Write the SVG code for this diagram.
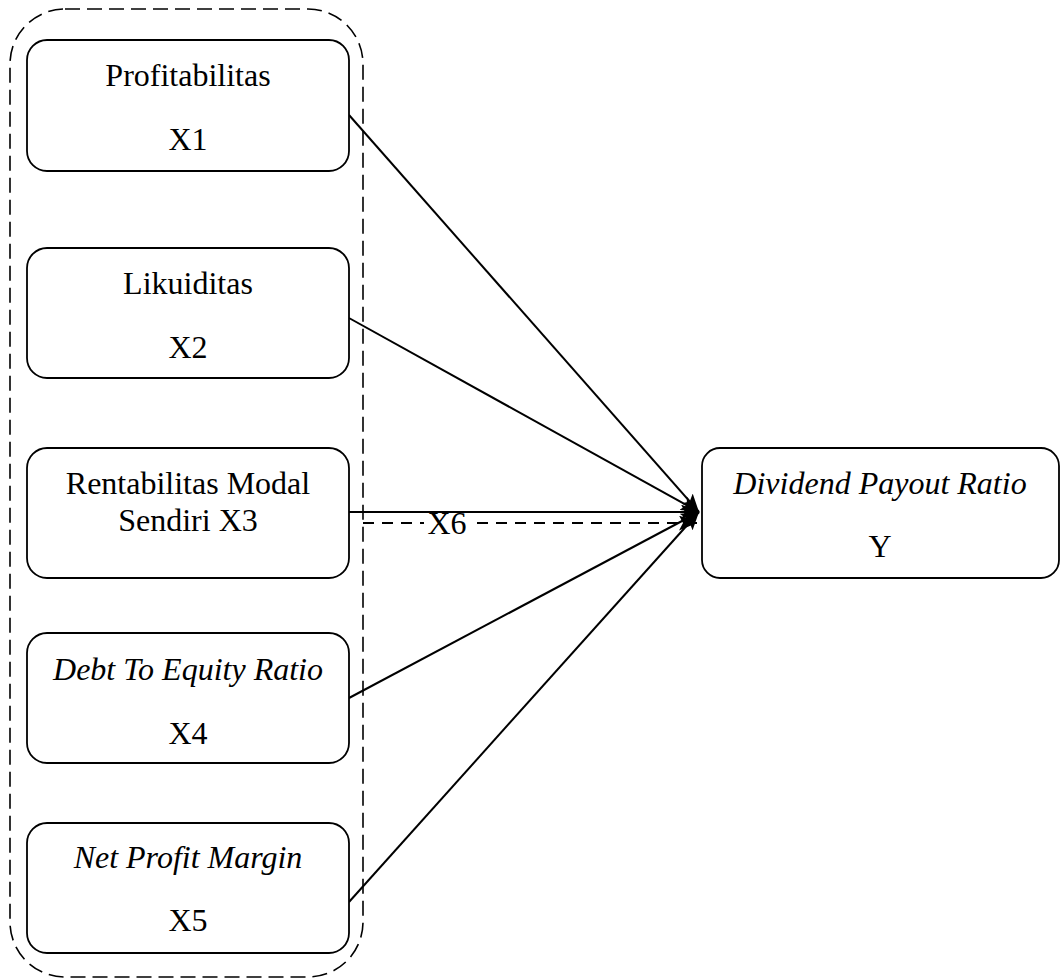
<svg xmlns="http://www.w3.org/2000/svg" width="1060" height="979" viewBox="0 0 1060 979">
<style>
.box{fill:#fff;stroke:#000;stroke-width:1.8}
.t{font-family:"Liberation Serif","Times New Roman",serif;font-size:32px;fill:#000;text-anchor:middle}
.i{font-style:italic}
.ln{stroke:#000;stroke-width:2;fill:none}
.dash{stroke-dasharray:11 8}
</style>
<defs>
<marker id="ah" markerUnits="userSpaceOnUse" markerWidth="19" markerHeight="15" refX="18" refY="7.5" orient="auto">
<path d="M0,0 L18,7.5 L0,15 L4,7.5 z" fill="#000"/>
</marker>
</defs>
<g id="group-outline">
<rect x="10" y="9" width="353" height="968" rx="55" ry="55" fill="none" stroke="#000" stroke-width="1.6" stroke-dasharray="15 7"/>
</g>
<g id="connectors">
<line class="ln" x1="349" y1="115" x2="699" y2="512" marker-end="url(#ah)"/>
<line class="ln" x1="349" y1="318" x2="699" y2="512" marker-end="url(#ah)"/>
<line class="ln" x1="349" y1="512" x2="699" y2="512" marker-end="url(#ah)"/>
<line class="ln" x1="349" y1="698" x2="699" y2="512" marker-end="url(#ah)"/>
<line class="ln" x1="349" y1="902" x2="699" y2="512" marker-end="url(#ah)"/>
<line class="ln dash" x1="363" y1="523" x2="697" y2="523" marker-end="url(#ah)"/>
<rect x="424" y="514" width="46" height="22" fill="#fff"/>
<text class="t" x="447" y="534">X6</text>
</g>
<g id="node-x1">
<rect class="box" x="27" y="40" width="322" height="131" rx="20"/>
<text class="t" x="188" y="86">Profitabilitas</text>
<text class="t" x="188" y="150">X1</text>
</g>
<g id="node-x2">
<rect class="box" x="27" y="248" width="322" height="130" rx="20"/>
<text class="t" x="188" y="294">Likuiditas</text>
<text class="t" x="188" y="358">X2</text>
</g>
<g id="node-x3">
<rect class="box" x="27" y="448" width="322" height="130" rx="20"/>
<text class="t" x="188" y="494">Rentabilitas Modal</text>
<text class="t" x="188" y="531">Sendiri X3</text>
</g>
<g id="node-x4">
<rect class="box" x="27" y="633" width="322" height="130" rx="20"/>
<text class="t i" x="188" y="680">Debt To Equity Ratio</text>
<text class="t" x="188" y="744">X4</text>
</g>
<g id="node-x5">
<rect class="box" x="27" y="823" width="322" height="130" rx="20"/>
<text class="t i" x="188" y="868">Net Profit Margin</text>
<text class="t" x="188" y="931">X5</text>
</g>
<g id="node-y">
<rect class="box" x="702" y="448" width="357" height="130" rx="18"/>
<text class="t i" x="880" y="494">Dividend Payout Ratio</text>
<text class="t" x="880" y="557">Y</text>
</g>
</svg>
